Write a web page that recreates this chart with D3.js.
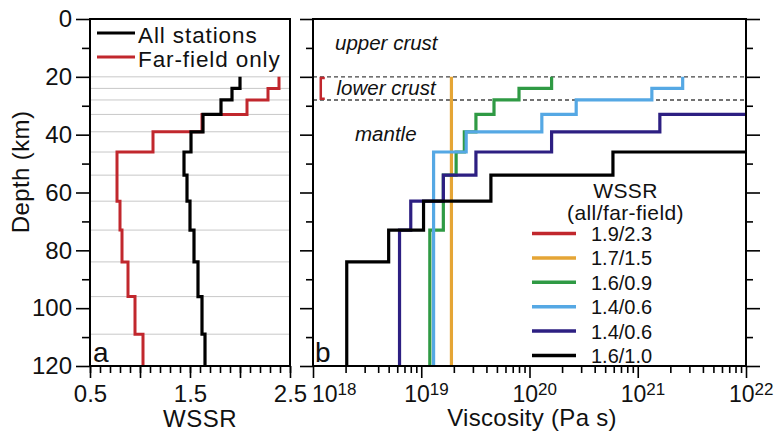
<!DOCTYPE html>
<html>
<head>
<meta charset="utf-8">
<script src="https://cdn.jsdelivr.net/npm/d3@7"></script>
<style>
  body { margin: 0; background: #fff; }
  svg text { font-family: "Liberation Sans", Arial, sans-serif; fill: #111; }
</style>
</head>
<body>
<svg id="chart" width="777" height="433"></svg>
<script>
// layer boundaries (km) used by both panels
var layerTops    = [20, 24, 28, 33, 39, 46, 54, 63, 73, 84, 96, 109];
var layerBottoms = [24, 28, 33, 39, 46, 54, 63, 73, 84, 96, 109, 120];

// panel a: WSSR for each layer
var wssrAll = [2.00, 1.92, 1.81, 1.63, 1.51, 1.44, 1.47, 1.50, 1.54, 1.58, 1.62, 1.65];
var wssrFar = [2.39, 2.28, 2.07, 1.62, 1.13, 0.77, 0.77, 0.80, 0.82, 0.88, 0.95, 1.03];

var depthMajor = [0, 20, 40, 60, 80, 100, 120];
var depthMinor = [10, 30, 50, 70, 90, 110];
var wssrMajor = [0.5, 1.0, 1.5, 2.0, 2.5];
var wssrLabels = [0.5, 1.5, 2.5];

// panel b: viscosity models (Pa s), tops of each layer and the base
var modelNames  = ["1.9/2.3", "1.7/1.5", "1.6/0.9", "1.4/0.6", "1.4/0.6", "1.6/1.0"];
var modelColors = ["#c1272d", "#e5a535", "#2f9a44", "#55a8e4", "#2d1f82", "#000000"];
var modelTops = [
  [20],
  [20],
  [20, 24, 28, 33, 39, 46, 54, 73],
  [20, 24, 28, 33, 39, 46],
  [33, 39, 46, 54, 63, 73],
  [46, 54, 63, 73, 84]
];
var modelBase = [28, 120, 120, 120, 120, 120];
var modelVals = [
  [1.18e18],
  [1.9e19],
  [1.6e20, 8e19, 4.7e19, 3.2e19, 2.5e19, 2.1e19, 1.6e19, 1.2e19],
  [2.6e21, 1.35e21, 2.7e20, 1.3e20, 2.6e19, 1.3e19],
  [1.6e21, 1.6e20, 3.2e19, 1.6e19, 8e18, 6.3e18],
  [5.9e20, 4.4e19, 1.05e19, 5e18, 2.05e18]
];
var decades = [18, 19, 20, 21, 22];

var svg = d3.select("#chart");

var ya = d3.scaleLinear().domain([0, 120]).range([19, 366]);
var xa = d3.scaleLinear().domain([0.5, 2.5]).range([90, 290]);
var xb = d3.scaleLog().domain([1e18, 1e22]).range([313, 746]);

// ---------- panel a ----------
svg.append("g").selectAll("line").data(layerTops).join("line")
  .attr("x1", xa.range()[0]).attr("x2", xa.range()[1])
  .attr("y1", function(d) { return ya(d); }).attr("y2", function(d) { return ya(d); })
  .attr("stroke", "#c8c8c8").attr("stroke-width", 1);

function stepsA(vals) {
  var pts = [];
  vals.forEach(function(v, i) {
    pts.push([v, layerTops[i]]);
    pts.push([v, layerBottoms[i]]);
  });
  return pts;
}
var lineA = d3.line().x(function(d) { return xa(d[0]); }).y(function(d) { return ya(d[1]); });

svg.append("path").datum(stepsA(wssrFar)).attr("d", lineA)
  .attr("fill", "none").attr("stroke", "#c1272d").attr("stroke-width", 3);
svg.append("path").datum(stepsA(wssrAll)).attr("d", lineA)
  .attr("fill", "none").attr("stroke", "#000").attr("stroke-width", 3.2);

// axes a
svg.append("g").attr("transform", "translate(90,0)")
  .call(d3.axisLeft(ya).tickValues(depthMajor).tickSize(14).tickPadding(4).tickSizeOuter(0));
svg.append("g").attr("transform", "translate(90,0)")
  .call(d3.axisLeft(ya).tickValues(depthMinor).tickSize(8).tickFormat("").tickSizeOuter(0));

svg.append("g").attr("transform", "translate(0,366)")
  .call(d3.axisBottom(xa).tickValues(d3.range(5, 26).map(function(d) { return d / 10; }))
    .tickSize(7).tickFormat("").tickSizeOuter(0));
svg.append("g").attr("transform", "translate(0,366)")
  .call(d3.axisBottom(xa).tickValues(wssrMajor).tickSize(12).tickPadding(7).tickSizeOuter(0)
    .tickFormat(function(d) { return wssrLabels.indexOf(d) >= 0 ? d3.format(".1f")(d) : ""; }));

// legend a
var legA = [["All stations", "#000"], ["Far-field only", "#c1272d"]];
legA.forEach(function(l, i) {
  var y = 33 + i * 24;
  svg.append("line").attr("x1", 97).attr("x2", 135).attr("y1", y).attr("y2", y)
    .attr("stroke", l[1]).attr("stroke-width", 3.2);
  svg.append("text").attr("x", 138).attr("y", y + 10).text(l[0])
    .style("font-size", "22.5px").style("letter-spacing", "0.9px");
});

svg.append("text").attr("x", 93).attr("y", 362).text("a").style("font-size", "28px");

svg.append("rect").attr("x", 90).attr("y", 19).attr("width", 200).attr("height", 347)
  .attr("fill", "none").attr("stroke", "#000").attr("stroke-width", 2);

// ---------- panel b ----------
[20, 28].forEach(function(d) {
  svg.append("line").attr("x1", xb.range()[0]).attr("x2", xb.range()[1])
    .attr("y1", ya(d)).attr("y2", ya(d))
    .attr("stroke", "#444").attr("stroke-width", 1.4).attr("stroke-dasharray", "4,3");
});

var lineB = d3.line().x(function(d) { return d[0]; }).y(function(d) { return ya(d[1]); });

modelVals.forEach(function(vals, m) {
  var tops = modelTops[m];
  var bottoms = tops.slice(1).concat(modelBase[m]);
  var pts = [];
  if (m === 0) {
    // lower-crust only model, drawn as a bracket
    var x0 = xb(vals[0]);
    pts = [[x0 + 4, tops[0] + 0.4], [x0, tops[0] + 0.4], [x0, bottoms[0] - 0.4], [x0 + 4, bottoms[0] - 0.4]];
  } else {
    if (tops[0] > 20) pts.push([xb.range()[1], tops[0]]);
    vals.forEach(function(v, i) {
      pts.push([xb(v), tops[i]]);
      pts.push([xb(v), bottoms[i]]);
    });
  }
  svg.append("path").datum(pts).attr("d", lineB)
    .attr("fill", "none").attr("stroke", modelColors[m])
    .attr("stroke-width", m === 0 ? 2.5 : 3.2);
});

// axes b
svg.append("g").attr("transform", "translate(313,0)")
  .call(d3.axisLeft(ya).tickValues(depthMajor).tickSize(13).tickFormat("").tickSizeOuter(0));
svg.append("g").attr("transform", "translate(313,0)")
  .call(d3.axisLeft(ya).tickValues(depthMinor).tickSize(7).tickFormat("").tickSizeOuter(0));
svg.append("g").attr("transform", "translate(746,0)")
  .call(d3.axisRight(ya).tickValues(depthMajor).tickSize(14).tickFormat("").tickSizeOuter(0));
svg.append("g").attr("transform", "translate(746,0)")
  .call(d3.axisRight(ya).tickValues(depthMinor).tickSize(7).tickFormat("").tickSizeOuter(0));

var minorB = [];
decades.slice(0, -1).forEach(function(e) {
  for (var k = 2; k <= 9; k++) minorB.push(k * Math.pow(10, e));
});
svg.append("g").attr("transform", "translate(0,366)")
  .call(d3.axisBottom(xb).tickValues(minorB).tickSize(7).tickFormat("").tickSizeOuter(0));
svg.append("g").attr("transform", "translate(0,366)")
  .call(d3.axisBottom(xb).tickValues(decades.map(function(e) { return Math.pow(10, e); }))
    .tickSize(12).tickFormat("").tickSizeOuter(0));

decades.forEach(function(e, i) {
  var x = xb(Math.pow(10, e));
  var t = svg.append("text").attr("x", i === 0 ? x - 1 : x - 17).attr("y", 401.5)
    .style("font-size", "23px");
  t.append("tspan").text("10");
  t.append("tspan").attr("dy", -7).style("font-size", "17px").text(e);
});

svg.selectAll(".domain").remove();
svg.selectAll(".tick line").attr("stroke", "#000").attr("stroke-width", 1.6);
svg.selectAll(".tick text").style("font-size", "24px").attr("fill", "#111");

// layer names
svg.append("text").attr("x", 335).attr("y", 50).text("upper crust")
  .style("font-size", "20.5px").style("font-style", "italic");
svg.append("text").attr("x", 336.5).attr("y", 95).text("lower crust")
  .style("font-size", "20.5px").style("font-style", "italic");
svg.append("text").attr("x", 355).attr("y", 141).text("mantle")
  .style("font-size", "20.5px").style("font-style", "italic");

// legend b
svg.append("text").attr("x", 625.5).attr("y", 197.5).attr("text-anchor", "middle")
  .text("WSSR").style("font-size", "21px").style("letter-spacing", "0.4px");
svg.append("text").attr("x", 625.5).attr("y", 220).attr("text-anchor", "middle")
  .text("(all/far-field)").style("font-size", "21px").style("letter-spacing", "0.4px");
modelNames.forEach(function(n, i) {
  var y = 233.5 + i * 24.4;
  svg.append("line").attr("x1", 532).attr("x2", 576).attr("y1", y).attr("y2", y)
    .attr("stroke", modelColors[i]).attr("stroke-width", 3.5);
  svg.append("text").attr("x", 591).attr("y", y + 7.5).text(n).style("font-size", "20px");
});

svg.append("text").attr("x", 315).attr("y", 362).text("b").style("font-size", "28px");

svg.append("rect").attr("x", 313).attr("y", 19).attr("width", 433).attr("height", 347)
  .attr("fill", "none").attr("stroke", "#000").attr("stroke-width", 2);

// axis titles
svg.append("text").attr("transform", "translate(29,172) rotate(-90)")
  .attr("text-anchor", "middle").text("Depth (km)")
  .style("font-size", "24px").style("letter-spacing", "0.4px");
svg.append("text").attr("x", 200).attr("y", 426.5).attr("text-anchor", "middle")
  .text("WSSR").style("font-size", "24px").style("letter-spacing", "0.5px");
svg.append("text").attr("x", 532).attr("y", 426).attr("text-anchor", "middle")
  .text("Viscosity (Pa s)").style("font-size", "24px").style("letter-spacing", "0.3px");
</script>
</body>
</html>
